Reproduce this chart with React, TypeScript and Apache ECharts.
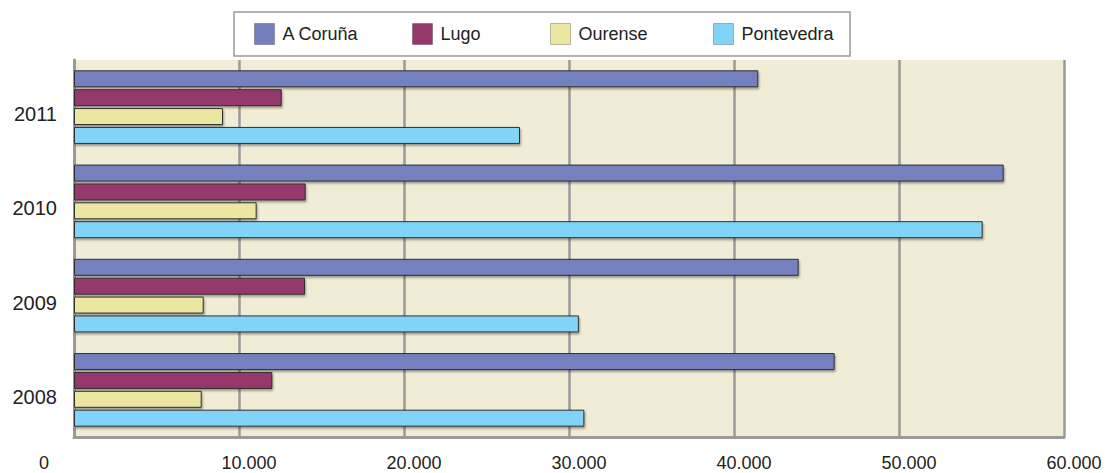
import React, { useEffect, useRef } from "react";
import * as echarts from "echarts";

const years = ["2008", "2009", "2010", "2011"];
const seriesNames = ["A Coruña", "Lugo", "Ourense", "Pontevedra"];
const coruna = [46100, 43920, 56345, 41470];
const lugo = [12020, 14000, 14040, 12590];
const ourense = [7740, 7860, 11070, 9030];
const pontevedra = [30930, 30600, 55070, 27030];
const colors = ["#7480BE", "#95386C", "#EBE6A2", "#80D4F7"];
const legendLeft = [254, 412, 550, 713];

const FONT = "Arial, 'Liberation Sans', sans-serif";

function fmt(v: number): string {
  if (v === 0) return "{z|0}";
  const s = String(Math.round(v));
  return "{a|" + s.replace(/\B(?=(\d{3})+(?!\d))/g, ".") + "}";
}

export default function App() {
  const ref = useRef<HTMLDivElement>(null);
  useEffect(() => {
    if (!ref.current) return;
    const chart = echarts.init(ref.current, undefined, { renderer: "svg" });
    const values = [coruna, lugo, ourense, pontevedra];
    const series = seriesNames.map((n, i) => ({
      name: n,
      type: "bar",
      data: values[i],
      barWidth: 17,
      barGap: "11%",
      itemStyle: {
        color: colors[i],
        borderColor: "#2f2f2f",
        borderWidth: 1,
        shadowColor: "rgba(0,0,0,0.35)",
        shadowOffsetX: 1,
        shadowOffsetY: 2,
        shadowBlur: 2,
      },
    }));
    chart.setOption({
      animation: false,
      backgroundColor: "#ffffff",
      textStyle: { fontFamily: FONT },
      graphic: [
        {
          type: "rect",
          shape: { x: 234, y: 12, width: 616, height: 44 },
          style: { fill: "#ffffff", stroke: "#9a9a9a", lineWidth: 1.5 },
          z: -1,
        },
      ],
      legend: seriesNames.map((n, i) => ({
        data: [n],
        left: legendLeft[i],
        top: 23,
        padding: 0,
        itemWidth: 20,
        itemHeight: 21,
        icon: "rect",
        itemStyle: { borderColor: "rgba(0,0,0,0.25)", borderWidth: 1, shadowBlur: 0, shadowOffsetX: 0, shadowOffsetY: 0 },
        textStyle: { fontSize: 18, color: "#222", fontFamily: FONT, padding: [0, 0, 0, 3] },
      })),
      grid: {
        left: 74,
        right: 41,
        top: 60,
        bottom: 36,
        show: true,
        backgroundColor: "#F1ECD6",
        borderWidth: 0,
      },
      xAxis: {
        type: "value",
        min: 0,
        max: 60000,
        interval: 10000,
        axisLine: { show: true, lineStyle: { color: "#9a9a9a", width: 3 } },
        axisTick: { show: false },
        splitLine: { show: true, lineStyle: { color: "#9a9a9a", width: 2.5 } },
        axisLabel: {
          margin: 17,
          color: "#222",
          formatter: fmt,
          rich: {
            a: { fontSize: 18, color: "#222", fontFamily: FONT, padding: [0, 0, 0, 20] },
            z: { fontSize: 18, color: "#222", fontFamily: FONT, padding: [0, 60, 0, 0] },
          },
        },
      },
      yAxis: {
        type: "category",
        data: years,
        axisLine: { show: true, lineStyle: { color: "#9a9a9a", width: 3 } },
        axisTick: { show: false },
        axisLabel: {
          margin: 17,
          color: "#222",
          formatter: "{y|{value}}",
          rich: {
            y: { fontSize: 20, color: "#222", fontFamily: FONT, padding: [14, 0, 0, 0] },
          },
        },
      },
      series,
    });
    return () => chart.dispose();
  }, []);
  return (
    <div
      ref={ref}
      style={{ position: "fixed", left: 0, top: 0, width: 1105, height: 473 }}
    />
  );
}
